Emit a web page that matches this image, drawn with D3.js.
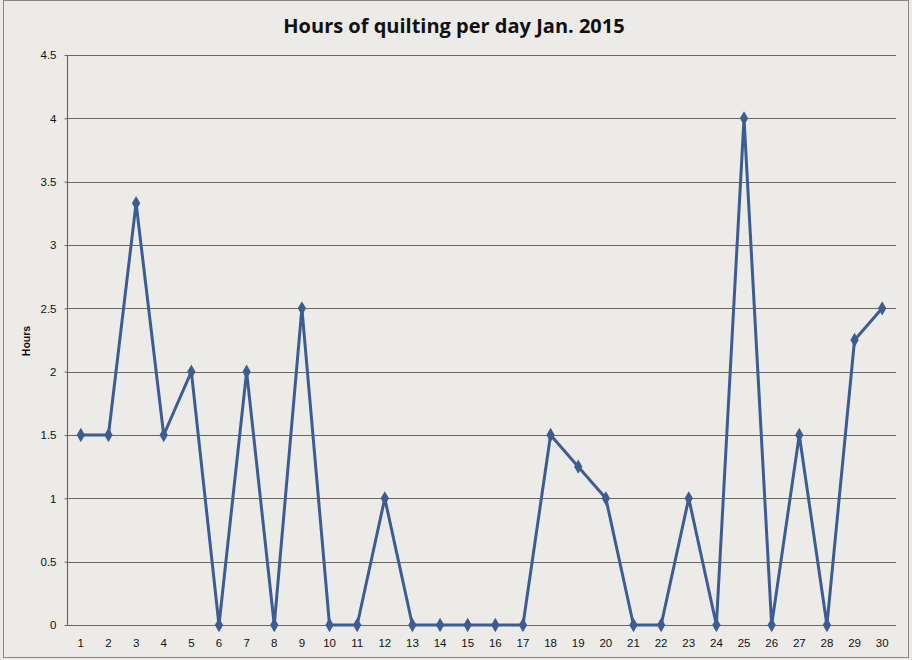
<!DOCTYPE html>
<html><head><meta charset="utf-8">
<script src="https://cdn.jsdelivr.net/npm/d3@7/dist/d3.min.js"></script>
<style>
html,body{margin:0;padding:0;background:#ecebe8;}
svg{display:block;}
</style></head>
<body>
<svg id="c" width="912" height="660"></svg>
<script>
const days = ["1","2","3","4","5","6","7","8","9","10","11","12","13","14","15","16","17","18","19","20","21","22","23","24","25","26","27","28","29","30"];
const hours = [1.5,1.5,3.33,1.5,2,0,2,0,2.5,0,0,1,0,0,0,0,0,1.5,1.25,1,0,0,1,0,4,0,1.5,0,2.25,2.5];
const yTicks = [0,0.5,1,1.5,2,2.5,3,3.5,4,4.5];
const title = "Hours of quilting per day Jan. 2015";
const yLabel = "Hours";

const svg = d3.select("#c");
const m = {l:67, r:896, t:55, b:625};
const x = d3.scaleBand().domain(days).range([m.l, m.r]);
const y = d3.scaleLinear().domain([0,4.5]).range([m.b, m.t]);

// outer frame
svg.append("rect").attr("x",3.5).attr("y",0.5).attr("width",905).attr("height",657)
  .attr("fill","#ecebe8").attr("stroke","#8a8784").attr("stroke-width",1);

// gridlines
svg.append("g").selectAll("line").data(yTicks).join("line")
  .attr("x1",m.l).attr("x2",m.r)
  .attr("y1",d=>Math.round(y(d))+0.5).attr("y2",d=>Math.round(y(d))+0.5)
  .attr("stroke","#6b6763").attr("stroke-width",1.2);

// y axis
const ya = svg.append("g").attr("transform",`translate(${m.l+0.5},0)`)
  .call(d3.axisLeft(y).tickValues(yTicks).tickSize(3).tickPadding(8).tickFormat(d=>String(d)));
ya.select(".domain").attr("stroke","#6b6763").attr("stroke-width",1.2).attr("d",`M0,${m.t}V${m.b}`);
ya.selectAll(".tick line").attr("stroke","#6b6763");
ya.selectAll("text").attr("font-family","Liberation Sans, Arial, sans-serif").attr("font-size",11.5).attr("fill","#111");

// x axis
const xa = svg.append("g").attr("transform",`translate(0,${m.b+0.5})`)
  .call(d3.axisBottom(x).tickSize(0).tickPadding(13));
xa.select(".domain").remove();
xa.selectAll("text").attr("font-family","Liberation Sans, Arial, sans-serif").attr("font-size",11.5).attr("fill","#111");

// line
const cx = d => x(d) + x.bandwidth()/2;
svg.append("path").datum(hours)
  .attr("d", d3.line().x((d,i)=>cx(days[i])).y(d=>y(d)))
  .attr("fill","none").attr("stroke","#3d5d92").attr("stroke-width",3).attr("stroke-linejoin","round");

// markers
svg.append("g").selectAll("path").data(hours).join("path")
  .attr("transform",(d,i)=>`translate(${cx(days[i])},${y(d)})`)
  .attr("d", d3.symbol().type(d3.symbolDiamond).size(60))
  .attr("fill","#3d5d92");

// title
svg.append("text").attr("x",454).attr("y",33).attr("text-anchor","middle")
  .attr("font-family","Open Sans, Liberation Sans, sans-serif").attr("font-weight","bold")
  .attr("font-size",20).attr("fill","#111").text(title);

// y label
svg.append("text").attr("transform","translate(30,341) rotate(-90)").attr("text-anchor","middle")
  .attr("font-family","Liberation Sans, Arial, sans-serif").attr("font-weight","bold")
  .attr("font-size",10.5).attr("fill","#111").text(yLabel);
</script>
</body></html>
